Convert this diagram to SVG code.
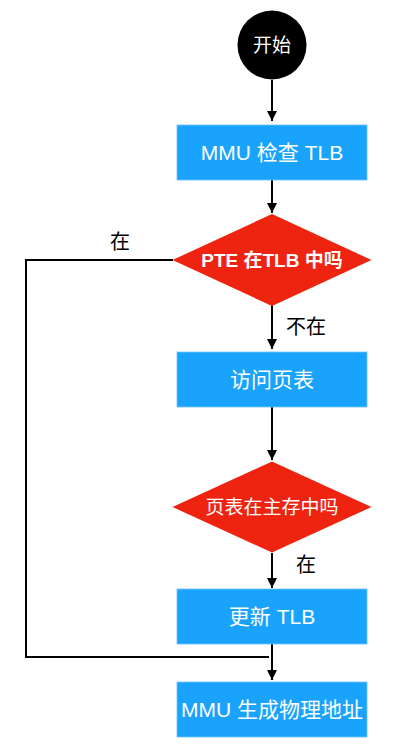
<svg xmlns="http://www.w3.org/2000/svg" width="402" height="751" viewBox="0 0 402 751">
<style>
.box{fill:#1aa3fd;stroke:#6cc4ff;stroke-width:0.8}
.dia{fill:#ee2410}
.t{font-family:"Liberation Sans","Noto Sans CJK SC",sans-serif;fill:#fff;font-size:21px;text-anchor:middle;dominant-baseline:central}
.tb{font-family:"Liberation Sans","Noto Sans CJK SC",sans-serif;fill:#fff;font-size:19px;font-weight:bold;text-anchor:middle;dominant-baseline:central}
.lbl{font-family:"Liberation Sans","Noto Sans CJK SC",sans-serif;fill:#000;font-size:20px;text-anchor:middle;dominant-baseline:central}
.ln{fill:none;stroke:#000;stroke-width:2}
</style>
<defs>
<marker id="ah" viewBox="0 0 10 10" refX="10" refY="5" markerWidth="10" markerHeight="10" markerUnits="userSpaceOnUse" orient="auto">
<path d="M0,0 L10,5 L0,10 z" fill="#000"/>
</marker>
</defs>
<g id="connectors">
<line class="ln" x1="272" y1="80" x2="272" y2="121" marker-end="url(#ah)"/>
<line class="ln" x1="272" y1="180" x2="272" y2="213" marker-end="url(#ah)"/>
<line class="ln" x1="272" y1="305" x2="272" y2="349" marker-end="url(#ah)"/>
<line class="ln" x1="272" y1="407" x2="272" y2="460" marker-end="url(#ah)"/>
<line class="ln" x1="272" y1="553" x2="272" y2="588" marker-end="url(#ah)"/>
<line class="ln" x1="272" y1="644" x2="272" y2="680" marker-end="url(#ah)"/>
<polyline class="ln" points="173,260 26,260 26,657 269,657"/>
<text class="lbl" x="120" y="242">在</text>
<text class="lbl" x="306" y="327">不在</text>
<text class="lbl" x="306" y="564.5">在</text>
</g>
<g id="start">
<circle cx="272" cy="45" r="34.5" fill="#000"/>
<text class="t" x="272" y="45" style="font-size:19px">开始</text>
</g>
<g id="check-tlb">
<rect class="box" x="177" y="125" width="190" height="55"/>
<text class="t" x="272" y="152.5">MMU 检查 TLB</text>
</g>
<g id="pte-in-tlb">
<polygon class="dia" points="272,214 371.5,260 272,306 172.5,260"/>
<text class="tb" x="272" y="260">PTE 在TLB 中吗</text>
</g>
<g id="access-pt">
<rect class="box" x="177" y="352" width="190" height="55"/>
<text class="t" x="272" y="379.5">访问页表</text>
</g>
<g id="pt-in-mem">
<polygon class="dia" points="272,461.5 371.5,507 272,552.5 172.5,507"/>
<text class="tb" x="272" y="507" style="font-weight:normal">页表在主存中吗</text>
</g>
<g id="update-tlb">
<rect class="box" x="177" y="589" width="190" height="55"/>
<text class="t" x="272" y="616.5">更新 TLB</text>
</g>
<g id="gen-pa">
<rect class="box" x="177" y="682" width="190" height="55"/>
<text class="t" x="272" y="709.5">MMU 生成物理地址</text>
</g>
</svg>
